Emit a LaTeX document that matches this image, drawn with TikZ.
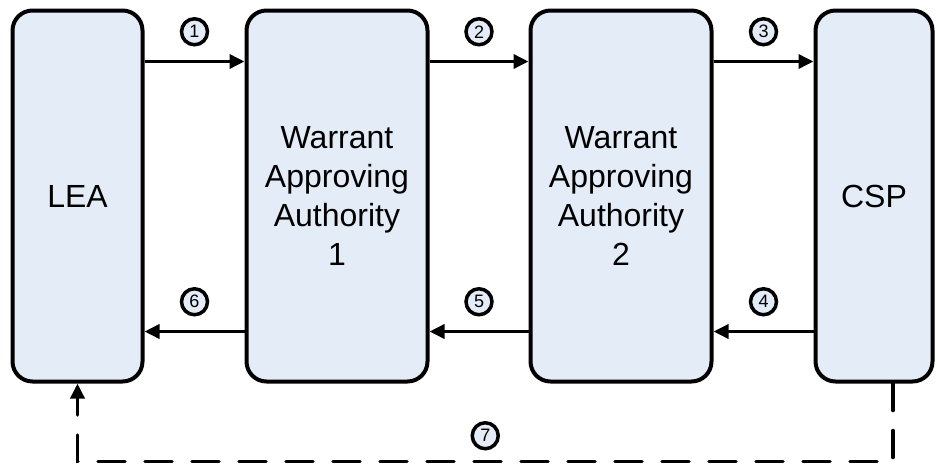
\documentclass[tikz,border=0pt]{standalone}
\usepackage{fontspec}
\setmainfont{Liberation Sans}
\usetikzlibrary{arrows.meta}
\definecolor{boxfill}{RGB}{228,236,247}
\tikzset{
  party/.style={draw, line width=4pt, fill=boxfill, rounded corners=20pt, align=center,
    minimum height=371pt, font=\fontsize{32}{39}\selectfont},
  flow/.style={line width=3.5pt, -{Triangle[length=15pt,width=14pt]}},
  back/.style={flow, dash pattern=on 27pt off 20pt, line cap=round},
  num/.style={draw, solid, circle, line width=3.5pt, fill=boxfill, minimum size=26pt, inner sep=0pt,
    font=\fontsize{18}{18}\selectfont}
}
\begin{document}
\begin{tikzpicture}[x=1pt,y=-1pt]
\useasboundingbox (0,0) rectangle (937,466);
\node[party, minimum width=130pt] (lea) at (77.5,196) {LEA};
\node[party, minimum width=181pt] (waa1) at (337,196) {Warrant\\Approving\\Authority\\1};
\node[party, minimum width=181pt] (waa2) at (621,196) {Warrant\\Approving\\Authority\\2};
\node[party, minimum width=117pt] (csp) at (874,196) {CSP};
\draw[flow] ([yshift=-53pt]lea.north east) -- node[num, above=15pt] (n1) {1} ([yshift=-53pt]waa1.north west);
\draw[flow] ([yshift=-53pt]waa1.north east) -- node[num, above=15pt] (n2) {2} ([yshift=-53pt]waa2.north west);
\draw[flow] ([yshift=-53pt]waa2.north east) -- node[num, above=15pt] (n3) {3} ([yshift=-53pt]csp.north west);
\draw[flow] ([yshift=52pt]csp.south west) -- node[num, above=15pt] (n4) {4} ([yshift=52pt]waa2.south east);
\draw[flow] ([yshift=52pt]waa2.south west) -- node[num, above=15pt] (n5) {5} ([yshift=52pt]waa1.south east);
\draw[flow] ([yshift=52pt]waa1.south west) -- node[num, above=15pt] (n6) {6} ([yshift=52pt]lea.south east);
\draw[back] ([xshift=19pt]csp.south) -- ++(0,78) -| node[num, pos=0.25, above=11pt] (n7) {7} (lea.south);
\end{tikzpicture}
\end{document}
